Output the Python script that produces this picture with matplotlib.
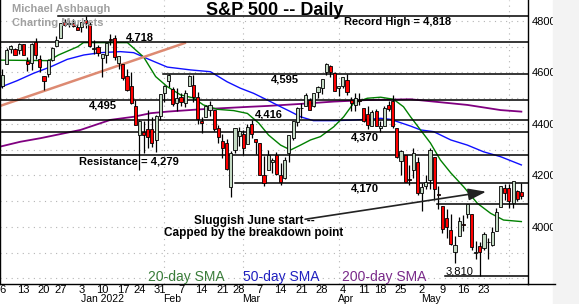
import numpy as np
import pandas as pd
import matplotlib
matplotlib.use("Agg")
import matplotlib.pyplot as plt
from matplotlib.patches import Rectangle
from matplotlib.lines import Line2D
import matplotlib.transforms as mtransforms

plt.rcParams['font.family'] = ['Liberation Sans', 'DejaVu Sans']

# ---------------- data ----------------
holidays = ['2021-12-24', '2022-01-17', '2022-02-21', '2022-04-15', '2022-05-30']
dates = pd.bdate_range('2021-12-06', '2022-06-06').drop(pd.to_datetime(holidays))

opens = [4548, 4632, 4691, 4691, 4688, 4710, 4643, 4636, 4719, 4653, 4588, 4595, 4650, 4704, 4734, 4795, 4789, 4794, 4775,
         4778, 4805, 4788, 4693, 4698, 4655, 4669, 4729, 4734, 4638, 4632, 4588, 4547, 4471, 4356, 4367, 4381, 4381, 4336, 4432,
         4520, 4566, 4535, 4483, 4506, 4480, 4547, 4553, 4506, 4413, 4429, 4456, 4456, 4385, 4333, 4325, 4156, 4298, 4354,
         4363, 4323, 4401, 4342, 4327, 4203, 4223, 4253, 4280, 4203, 4189, 4288, 4345, 4407, 4462, 4469, 4493, 4470, 4523,
         4541, 4603, 4624, 4599, 4540, 4548, 4572, 4494, 4475, 4494, 4463, 4438, 4394, 4449, 4386, 4391, 4472, 4489, 4386,
         4255, 4278, 4187, 4223, 4254, 4131, 4160, 4181, 4270, 4128, 4081, 4035, 3990, 3904, 3964, 4013, 4052, 4052, 3899,
         3928, 3919, 3943, 3930, 3985, 4077, 4151, 4150, 4095, 4138, 4135]
highs = [4613, 4694, 4705, 4695, 4714, 4710, 4660, 4713, 4732, 4667, 4588, 4651, 4698, 4741, 4791, 4807, 4804, 4809, 4787,
         4797, 4819, 4798, 4725, 4708, 4673, 4714, 4749, 4744, 4665, 4632, 4612, 4602, 4495, 4417, 4411, 4453, 4429, 4433, 4517,
         4550, 4595, 4543, 4540, 4522, 4531, 4590, 4589, 4526, 4426, 4473, 4490, 4456, 4395, 4362, 4342, 4295, 4385, 4389,
         4378, 4401, 4417, 4342, 4327, 4277, 4299, 4268, 4291, 4248, 4271, 4359, 4413, 4465, 4482, 4522, 4501, 4521, 4546,
         4576, 4637, 4628, 4603, 4549, 4584, 4593, 4504, 4521, 4520, 4464, 4471, 4454, 4460, 4410, 4471, 4488, 4513, 4386,
         4299, 4278, 4241, 4308, 4270, 4170, 4200, 4308, 4270, 4158, 4081, 4069, 4049, 3965, 4039, 4046, 4091, 4052, 3946,
         3943, 3982, 3956, 3999, 4075, 4158, 4168, 4167, 4178, 4143, 4169]
lows = [4541, 4632, 4675, 4666, 4670, 4668, 4607, 4611, 4652, 4600, 4531, 4583, 4646, 4704, 4734, 4780, 4778, 4775, 4766,
        4758, 4774, 4699, 4671, 4663, 4582, 4638, 4707, 4650, 4615, 4569, 4530, 4478, 4395, 4223, 4287, 4305, 4310, 4292, 4414,
        4484, 4544, 4470, 4452, 4471, 4465, 4547, 4484, 4401, 4365, 4429, 4430, 4374, 4327, 4267, 4222, 4115, 4287, 4315,
        4280, 4323, 4346, 4285, 4200, 4158, 4223, 4210, 4200, 4162, 4188, 4252, 4336, 4391, 4424, 4469, 4456, 4465, 4501,
        4518, 4590, 4581, 4530, 4508, 4539, 4514, 4450, 4450, 4475, 4408, 4381, 4393, 4391, 4370, 4391, 4449, 4384, 4268,
        4201, 4175, 4163, 4189, 4124, 4063, 4147, 4149, 4106, 4068, 3975, 3958, 3929, 3859, 3964, 3984, 4034, 3912, 3877,
        3810, 3909, 3875, 3925, 3985, 4077, 4105, 4074, 4074, 4099, 4109]
closes = [4592, 4687, 4701, 4667, 4712, 4669, 4634, 4710, 4669, 4621, 4568, 4649, 4697, 4726, 4791, 4786, 4793, 4779, 4766,
          4797, 4794, 4701, 4696, 4677, 4670, 4713, 4726, 4659, 4663, 4577, 4533, 4483, 4398, 4410, 4356, 4350, 4327, 4432, 4516,
          4547, 4589, 4477, 4501, 4484, 4522, 4587, 4504, 4419, 4402, 4471, 4475, 4380, 4349, 4305, 4226, 4289, 4385, 4374,
          4306, 4387, 4363, 4329, 4201, 4171, 4278, 4260, 4204, 4173, 4262, 4358, 4412, 4463, 4461, 4512, 4456, 4520, 4543,
          4576, 4632, 4602, 4530, 4546, 4583, 4525, 4481, 4500, 4488, 4413, 4397, 4447, 4393, 4392, 4462, 4459, 4394, 4272,
          4296, 4175, 4184, 4288, 4132, 4155, 4175, 4300, 4147, 4123, 3991, 4001, 3935, 3930, 4024, 4008, 4089, 3924, 3901,
          3901, 3974, 3941, 3979, 4058, 4158, 4132, 4101, 4177, 4109, 4121]

sma20_idx = [-0.6, 11.1, 13.5, 18.1, 19.5, 30.1, 34, 36.9, 39.7, 42.9, 46, 48.4, 51.7, 55.7, 59, 61.7, 64.1, 67, 69.4,
             71.8, 74.2, 76.6, 79.8, 82.2, 84.6, 87.9, 91.1, 94.2, 96.6, 98.3, 100.7, 103.1, 105.5, 108, 111.1, 114.4,
             117.6, 120.7, 125]
sma20_val = [4648, 4646, 4668, 4700, 4716, 4716, 4660, 4584, 4545, 4513, 4501, 4474, 4457, 4452, 4441, 4404, 4357, 4318,
             4299, 4318, 4338, 4351, 4389, 4428, 4481, 4500, 4504, 4496, 4467, 4428, 4377, 4326, 4260, 4210, 4156, 4092,
             4053, 4027, 4021]
sma50_idx = [-0.6, 3.5, 7.5, 11.6, 15.6, 19.6, 23.6, 28.4, 31.6, 35.7, 39.7, 45.3, 50.1, 54.1, 57.3, 60.5, 63.8, 67,
             69.4, 71.8, 74.9, 79.8, 83.9, 87.9, 91.1, 93.5, 95.9, 98.3, 100.7, 103.9, 108, 112, 115.9, 120, 125]
sma50_val = [4542, 4568, 4597, 4622, 4651, 4668, 4677, 4681, 4677, 4648, 4621, 4610, 4603, 4564, 4539, 4519, 4493, 4467,
             4448, 4428, 4413, 4413, 4415, 4418, 4422, 4418, 4405, 4392, 4377, 4370, 4338, 4318, 4292, 4273, 4241]
sma200_idx = [-0.6, 4.3, 9.2, 14, 18.8, 23.6, 26, 31.6, 35.7, 39.7, 47.7, 59.8, 63.8, 71.8, 79.8, 87.9, 98.3, 103.9,
              112, 120, 125]
sma200_val = [4312, 4331, 4345, 4361, 4377, 4403, 4416, 4428, 4442, 4448, 4457, 4467, 4470, 4478, 4487, 4493, 4496,
              4487, 4474, 4454, 4448]

level_vals = [4818, 4718, 4595, 4495, 4416, 4370, 4279, 4170, 4089, 3810]
level_starts = [13.4, -1, 38.7, -1, -1, -1, -1, 56, 104.7, 106.6]

trend_idx = [-0.6, 44.2]
trend_val = [4470, 4716]

week_labels = ['6', '13', '20', '27', '3', '10', '17', '24', '31', '7', '14', '21', '28', '7', '14', '21', '28',
               '4', '11', '18', '25', '2', '9', '16', '23']
month_labels = ['Jan 2022', 'Feb', 'Mar', 'Apr', 'May']

# ---------------- figure ----------------
W, H = 579, 304
fig = plt.figure(figsize=(W / 100, H / 100), dpi=100)
fig.patches.append(Rectangle((553 / W, 0), 26 / W, 1, transform=fig.transFigure, color='#f3f3f3', zorder=0))
ax = fig.add_axes([0, 20 / H, 528 / W, 284 / H])
ax.set_xlim(-0.6, 126.6)
ax.set_ylim(3778.6, 4881.5)

x = np.arange(len(dates))
o = np.array(opens, float); c = np.array(closes, float)
hi = np.array(highs, float); lo = np.array(lows, float)
up = c >= o

# ticks & gridlines
wk = dates.to_period('W')
week_pos = [i for i in range(len(dates)) if i == 0 or wk[i] != wk[i - 1]][:len(week_labels)]
mo = dates.month
month_pos = [i for i in range(1, len(dates)) if mo[i] != mo[i - 1]]
ax.set_xticks(week_pos)
ax.set_xticklabels(week_labels, fontsize=8)
ax.set_xticks(month_pos, minor=True)
ax.set_yticks(np.arange(4000, 4801, 200))
ax.set_yticks(np.arange(3800, 4900, 100), minor=True)
ax.yaxis.tick_right()
ax.tick_params(axis='y', which='both', length=0, pad=3, labelsize=8)
ax.tick_params(axis='x', which='both', length=0, pad=0.5)
gkw = dict(color='#b4b4b4', linestyle=(0, (1, 4)), linewidth=0.8)
ax.xaxis.grid(True, which='minor', **gkw)
ax.yaxis.grid(True, which='both', **gkw)
ax.set_axisbelow(True)
ax.spines['top'].set_visible(False)
for s in ['left', 'right', 'bottom']:
    ax.spines[s].set_linewidth(1.0)

# month labels
trans = mtransforms.blended_transform_factory(ax.transData, fig.transFigure)
for lab, p in zip(month_labels, month_pos):
    ax.text(p - 0.2, 1 - 299 / H, lab, transform=trans, ha='left', va='center', fontsize=7.5, clip_on=False)
fig.lines.append(Line2D([528 / W, 555 / W], [20 / H, 20 / H], color='black', lw=1.0, transform=fig.transFigure))

# SMAs
ax.plot(sma200_idx, sma200_val, color='#800080', lw=1.3, zorder=2)
ax.plot(sma50_idx, sma50_val, color='#1010ff', lw=1.0, zorder=2)
ax.plot(sma20_idx, sma20_val, color='#008000', lw=1.0, zorder=2)

# trendline
ax.plot(trend_idx, trend_val, color='#dd8a72', lw=1.8, zorder=2.5, solid_capstyle='butt')

# horizontal levels
for v, s in zip(level_vals, level_starts):
    ax.plot([s, 127], [v, v], color='black', lw=1.1, zorder=3)

# candles
ax.vlines(x, lo, hi, color='black', lw=0.9, zorder=4)
ax.bar(x, np.abs(c - o), bottom=np.minimum(o, c), width=0.75,
       color=np.where(up, '#c4dac4', '#ff0000'), edgecolor='black', linewidth=0.6, zorder=5)

# level labels
pt = 72 / 100.0
labels = [
    ('Record High = 4,818', 95.1, 4818, -5.6, 'bold'),
    ('4,718', 33.1, 4718, 5, 'bold'),
    ('4,595', 68.1, 4595, -6, 'bold'),
    ('4,495', 24.3, 4495, -6, 'bold'),
    ('4,416', 64.1, 4416, 5, 'bold'),
    ('4,370', 87.3, 4370, -5.7, 'bold'),
    ('Resistance = 4,279', 30.4, 4279, -6.3, 'bold'),
    ('4,170', 87.3, 4170, -5.7, 'bold'),
    ('3,810', 110, 3810, 4.7, 'normal'),
]
for t, xi, v, off, wt in labels:
    ax.annotate(t, (xi, v), xytext=(0, off * pt), textcoords='offset points', ha='center', va='center',
                fontsize=8, fontweight=wt, zorder=6)

# arrow annotation
ax.annotate('', xy=(116.5, 4137), xytext=(72.9, 4030),
            arrowprops=dict(arrowstyle='-|>,head_length=0.9,head_width=0.3', color='#222222', lw=1.2,
                            shrinkA=0, shrinkB=0, mutation_scale=12), zorder=6)
ax.text(60.6, 4001, 'Sluggish June start --\nCapped by the breakdown point', ha='center', va='center',
        fontsize=8.5, fontweight='bold', linespacing=1.05, zorder=6)

# title and watermark
fig.text(275 / W, 1 - 15 / H, 'S&P 500 -- Daily', ha='center', va='baseline', fontsize=13, fontweight='bold')
fig.text(12 / W, 1 - 8.5 / H, 'Michael Ashbaugh', ha='left', va='center', fontsize=8, fontweight='bold', color='#a0a0a0')
fig.text(12 / W, 1 - 22.7 / H, 'Charting Markets', ha='left', va='center', fontsize=8, fontweight='bold', color='#a0a0a0')

# SMA legend text
fig.text(148 / W, 1 - 277 / H, '20-day SMA', ha='left', va='center', fontsize=10, color='#3a7d3a')
fig.text(243 / W, 1 - 277 / H, '50-day SMA', ha='left', va='center', fontsize=10, color='#2020c0')
fig.text(342 / W, 1 - 277 / H, '200-day SMA', ha='left', va='center', fontsize=10, color='#7a2a8a')

fig.savefig('out.png', dpi=100)
